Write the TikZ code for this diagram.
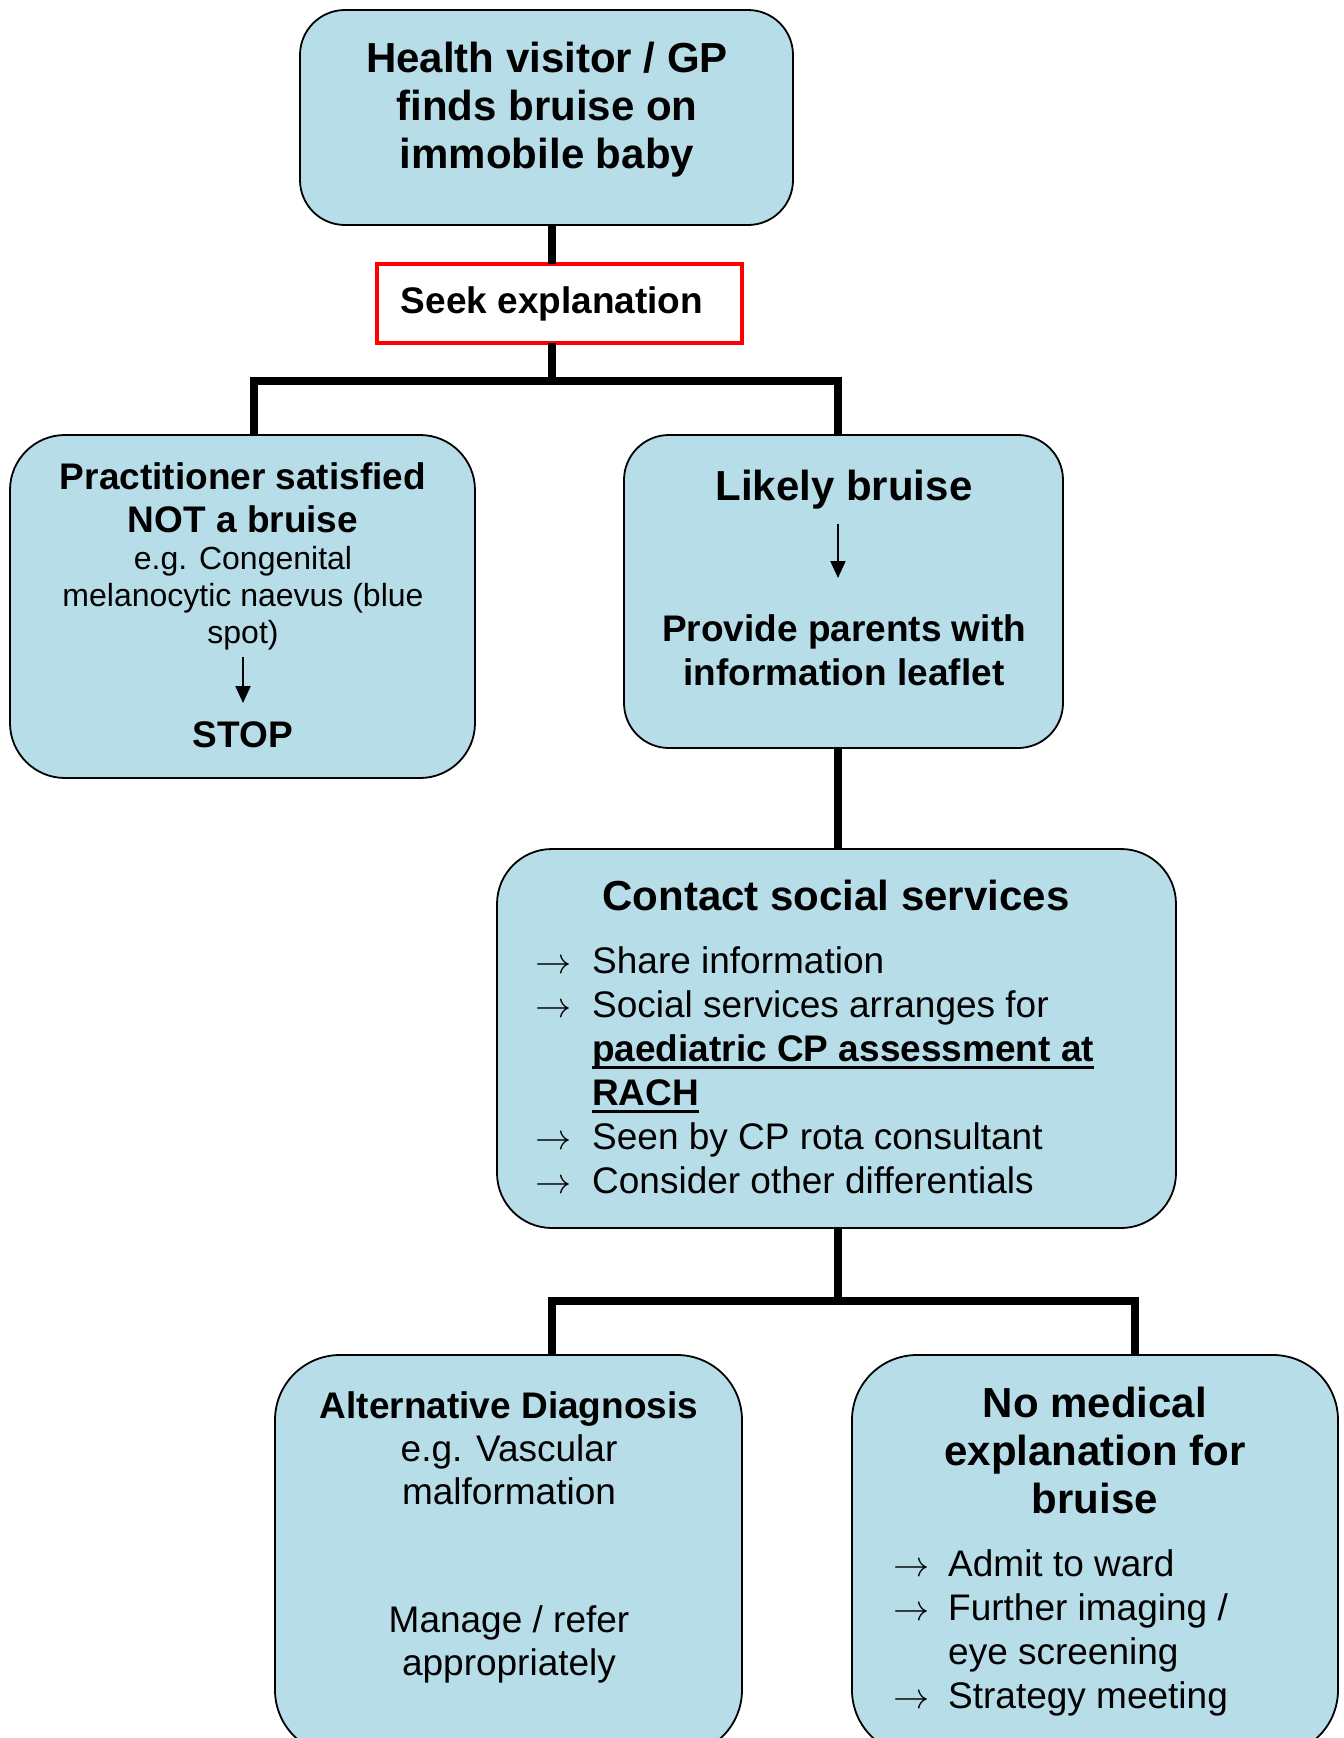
\documentclass[tikz,border=0pt]{standalone}
\usepackage{graphicx}
\usepackage{fontspec}
\setmainfont{Liberation Sans}
\usetikzlibrary{arrows.meta}
\definecolor{boxfill}{RGB}{183,221,232}
\definecolor{seekred}{RGB}{255,0,0}
\newcommand{\bigarr}{\scalebox{1.45}{$\rightarrow$}}
\newcommand{\arrA}{\makebox[57pt][l]{\bigarr}}
\newcommand{\indA}{\hspace*{57pt}}
\newcommand{\arrB}{\makebox[55pt][l]{\bigarr}}
\newcommand{\indB}{\hspace*{55pt}}
\newsavebox{\ulbox}
\newcommand{\ulbold}[1]{\sbox{\ulbox}{#1}\rlap{\rule[-8pt]{\wd\ulbox}{3.2pt}}\usebox{\ulbox}}
\begin{document}
\begin{tikzpicture}[x=1pt,y=-1pt,
  box/.style={draw=black, line width=1.8pt, fill=boxfill, rounded corners=#1, inner sep=0pt, outer sep=0pt},
  box/.default=50pt,
  seekbox/.style={draw=seekred, line width=4pt, fill=white, inner sep=0pt, outer sep=0pt},
  conn/.style={draw=black, line width=7.5pt, line join=miter},
  inarrow/.style={draw=black, line width=2pt, -{Triangle[width=15pt,length=17pt]}},
  tbig/.style={font=\fontsize{42}{48}\selectfont\bfseries, align=center, anchor=base, inner sep=0pt},
  tmed/.style={font=\fontsize{37}{43}\selectfont\bfseries, align=center, anchor=base, inner sep=0pt},
  treg/.style={font=\fontsize{37}{43}\selectfont, align=center, anchor=base, inner sep=0pt},
  tsmall/.style={font=\fontsize{32}{37}\selectfont, align=center, anchor=base, inner sep=0pt},
  tlist/.style={font=\fontsize{37}{44}\selectfont, align=left, anchor=base west, inner sep=0pt}
]
\fill[white] (0,0) rectangle (1344,1738);
\useasboundingbox (0,0) rectangle (1344,1738);

% boxes
\node[box=45pt, minimum width=493pt, minimum height=215pt] (top) at (546.5,117.5) {};
\node[seekbox, minimum width=365pt, minimum height=79pt] (seek) at (559.5,303.5) {};
\node[box=55pt, minimum width=465pt, minimum height=343pt] (left) at (242.5,606.5) {};
\node[box=45pt, minimum width=439pt, minimum height=313pt] (likely) at (843.5,591.5) {};
\node[box=55pt, minimum width=679pt, minimum height=379pt] (contact) at (836.5,1038.5) {};
\node[box=65pt, minimum width=467pt, minimum height=400pt] (alt) at (508.5,1555) {};
\node[box=65pt, minimum width=486pt, minimum height=400pt] (nomed) at (1095,1555) {};

% junctions
\coordinate (j1) at (552,381);
\coordinate (j1l) at (254,381);
\coordinate (j1r) at (838,381);
\coordinate (j2) at (838,1301);
\coordinate (j2l) at (552,1301);
\coordinate (j2r) at (1135,1301);

% connectors
\draw[conn] (top.south -| j1) -- (seek.north -| j1);
\draw[conn] (seek.south -| j1) -- (j1);
\draw[conn] (left.north -| j1l) -- (j1l) -- (j1r) -- (likely.north -| j1r);
\draw[conn] (likely.south -| j1r) -- (contact.north -| j1r);
\draw[conn] (contact.south -| j2) -- (j2);
\draw[conn] (alt.north -| j2l) -- (j2l) -- (j2r) -- (nomed.north -| j2r);

% texts (multi-line nodes: base = last line)
\node[tbig] (ttop) at (547,168) {Health visitor / GP\\finds bruise on\\immobile baby};
\node[tmed] (tseek) at (552,313) {Seek explanation};

\node[tmed] (tleft1) at (243,532) {Practitioner satisfied\\NOT a bruise};
\node[tsmall] (tleft2) at (243,643) {e.g. Congenital\\melanocytic naevus (blue\\spot)};
\coordinate (la1) at (243,657);
\coordinate (la2) at (243,703);
\draw[inarrow] (la1) -- (la2);
\node[tmed] (tstop) at (243,747) {STOP};

\node[tbig] (tlikely) at (844,500) {Likely bruise};
\coordinate (ra1) at (838,524);
\coordinate (ra2) at (838,578);
\draw[inarrow] (ra1) -- (ra2);
\node[tmed, font=\fontsize{37}{44}\selectfont\bfseries] (tprovide) at (844,685) {Provide parents with\\information leaflet};

\node[tbig] (tcontact) at (836,910) {Contact social services};
\node[tlist] (tcontactlist) at (535,1193) {\arrA Share information\\
\arrA Social services arranges for\\
\indA\ulbold{\textbf{paediatric CP assessment at}}\\
\indA\ulbold{\textbf{RACH}}\\
\arrA Seen by CP rota consultant\\
\arrA Consider other differentials};

\node[tmed] (talt1) at (509,1418) {Alternative Diagnosis};
\node[treg] (talt2) at (509,1504) {e.g. Vascular\\malformation};
\node[treg] (talt3) at (509,1675) {Manage / refer\\appropriately};

\node[tbig] (tnomed) at (1095,1513) {No medical\\explanation for\\bruise};
\node[tlist] (tnomedlist) at (893,1708) {\arrB Admit to ward\\
\arrB Further imaging /\\
\indB eye screening\\
\arrB Strategy meeting};
\end{tikzpicture}
\end{document}
